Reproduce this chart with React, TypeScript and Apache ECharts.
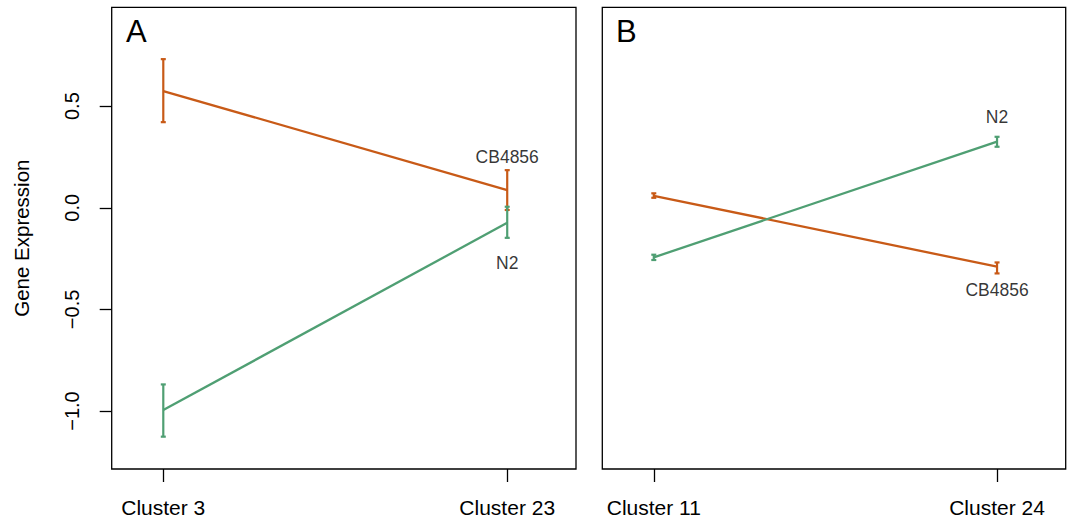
import React, { useEffect, useRef } from "react";
import * as echarts from "echarts";

const clustersA = ["Cluster 3", "Cluster 23"];
const clustersB = ["Cluster 11", "Cluster 24"];
const xPos = [1, 2];

const cbA_mean = [0.574, 0.087];
const cbA_lo = [0.421, -0.011];
const cbA_hi = [0.731, 0.185];
const n2A_mean = [-0.995, -0.074];
const n2A_lo = [-1.126, -0.148];
const n2A_hi = [-0.869, 0.005];

const cbB_mean = [0.059, -0.29];
const cbB_lo = [0.049, -0.323];
const cbB_hi = [0.071, -0.269];
const n2B_mean = [-0.244, 0.325];
const n2B_lo = [-0.257, 0.3];
const n2B_hi = [-0.231, 0.349];

const yTicks = [-1, -0.5, 0, 0.5];
const labelsA = [
  { name: "CB4856", x: 2, y: 0.25 },
  { name: "N2", x: 2, y: -0.27 },
];
const labelsB = [
  { name: "N2", x: 2, y: 0.445 },
  { name: "CB4856", x: 2, y: -0.405 },
];

const ORANGE = "#C85A17";
const GREEN = "#4F9F73";
const FONT = "Liberation Sans, Arial, sans-serif";

function errSeries(idx: number, lo: number[], hi: number[], color: string) {
  return {
    type: "custom",
    xAxisIndex: idx,
    yAxisIndex: idx,
    data: xPos.map((x, i) => [x, lo[i], hi[i]]),
    encode: { x: 0, y: [1, 2] },
    renderItem: (params: any, api: any) => {
      const x = api.value(0);
      const p1 = api.coord([x, api.value(1)]);
      const p2 = api.coord([x, api.value(2)]);
      const w = 2.5;
      const st = { stroke: color, lineWidth: 2.2 };
      return {
        type: "group",
        children: [
          { type: "line", shape: { x1: p1[0], y1: p1[1], x2: p2[0], y2: p2[1] }, style: st },
          { type: "line", shape: { x1: p1[0] - w, y1: p1[1], x2: p1[0] + w, y2: p1[1] }, style: st },
          { type: "line", shape: { x1: p2[0] - w, y1: p2[1], x2: p2[0] + w, y2: p2[1] }, style: st },
        ],
      };
    },
    silent: true,
    z: 3,
  };
}

function lineSeries(idx: number, mean: number[], color: string) {
  return {
    type: "line",
    xAxisIndex: idx,
    yAxisIndex: idx,
    data: xPos.map((x, i) => [x, mean[i]]),
    symbol: "none",
    lineStyle: { color, width: 2.3 },
    silent: true,
    z: 2,
  };
}

function labelSeries(idx: number, labels: { name: string; x: number; y: number }[]) {
  return {
    type: "scatter",
    xAxisIndex: idx,
    yAxisIndex: idx,
    symbolSize: 0,
    data: labels.map((l) => ({ name: l.name, value: [l.x, l.y] })),
    label: {
      show: true,
      position: "inside",
      formatter: (p: any) => p.name,
      color: "#000",
      fontSize: 17.5,
      fontFamily: FONT,
      textBorderWidth: 0,
    },
    silent: true,
    z: 4,
  };
}

function xAxis(idx: number, names: string[]) {
  return {
    type: "value",
    gridIndex: idx,
    min: 0.85,
    max: 2.2,
    axisLine: { show: false, onZero: false },
    splitLine: { show: false },
    axisTick: { show: true, customValues: xPos, length: 13, lineStyle: { color: "#000", width: 1.3 } },
    axisLabel: {
      show: true,
      customValues: xPos,
      formatter: (v: number) => names[xPos.indexOf(v)] ?? "",
      color: "#000",
      fontSize: 21,
      fontFamily: FONT,
      margin: 28,
    },
  };
}

function yAxis(idx: number, show: boolean) {
  return {
    type: "value",
    gridIndex: idx,
    min: -1.285,
    max: 0.986,
    axisLine: { show: false, onZero: false },
    splitLine: { show: false },
    name: show ? "Gene Expression" : "",
    nameLocation: "middle",
    nameRotate: 90,
    nameGap: 80,
    nameTextStyle: { color: "#000", fontSize: 20.5, fontFamily: FONT },
    axisTick: { show, customValues: yTicks, length: 12, lineStyle: { color: "#000", width: 1.3 } },
    axisLabel: {
      show,
      customValues: yTicks,
      rotate: 90,
      formatter: (v: number) => (v < 0 ? "\u2212" : "") + Math.abs(v).toFixed(1),
      color: "#000",
      fontSize: 20,
      fontFamily: FONT,
      margin: 30,
    },
  };
}

export default function App() {
  const ref = useRef<HTMLDivElement>(null);
  useEffect(() => {
    if (!ref.current) return;
    const chart = echarts.init(ref.current, undefined, { renderer: "svg" });
    const gridStyle = { show: true, borderColor: "#000", borderWidth: 1.3, backgroundColor: "transparent" };
    chart.setOption({
      animation: false,
      backgroundColor: "#fff",
      grid: [
        { left: 111.7, top: 7.3, width: 464.3, height: 461.7, ...gridStyle },
        { left: 602.3, top: 7.3, width: 463.4, height: 461.7, ...gridStyle },
      ],
      xAxis: [xAxis(0, clustersA), xAxis(1, clustersB)],
      yAxis: [yAxis(0, true), yAxis(1, false)],
      graphic: [
        { type: "text", left: 126, top: 16, style: { text: "A", fontSize: 31, fontFamily: FONT, fill: "#000" } },
        { type: "text", left: 616, top: 16, style: { text: "B", fontSize: 31, fontFamily: FONT, fill: "#000" } },
      ],
      series: [
        lineSeries(0, cbA_mean, ORANGE),
        lineSeries(0, n2A_mean, GREEN),
        errSeries(0, cbA_lo, cbA_hi, ORANGE),
        errSeries(0, n2A_lo, n2A_hi, GREEN),
        labelSeries(0, labelsA),
        lineSeries(1, cbB_mean, ORANGE),
        lineSeries(1, n2B_mean, GREEN),
        errSeries(1, cbB_lo, cbB_hi, ORANGE),
        errSeries(1, n2B_lo, n2B_hi, GREEN),
        labelSeries(1, labelsB),
      ],
    });
    return () => chart.dispose();
  }, []);
  return (
    <div
      ref={ref}
      style={{ position: "fixed", left: 0, top: 0, width: 1072, height: 521 }}
    />
  );
}
